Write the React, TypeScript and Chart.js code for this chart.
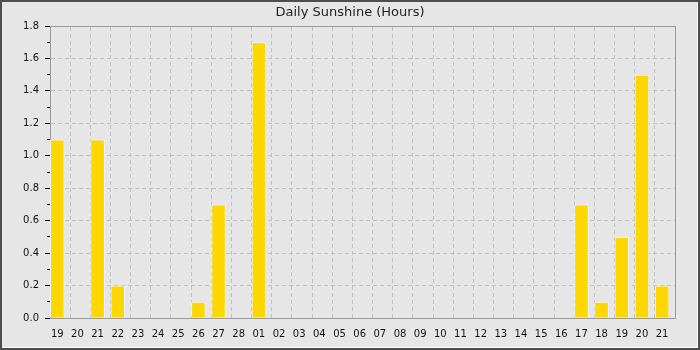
import { useEffect, useRef } from 'react';
import { Chart, registerables } from 'chart.js';

Chart.register(...registerables);

// Day-of-month labels, one per bar
const dayLabels = [
  '19', '20', '21', '22', '23', '24', '25', '26', '27', '28',
  '01', '02', '03', '04', '05', '06', '07', '08', '09', '10',
  '11', '12', '13', '14', '15', '16', '17', '18', '19', '20', '21',
];

// Hours of sunshine recorded each day
const sunshineHours = [
  1.1, 0, 1.1, 0.2, 0, 0, 0, 0.1, 0.7, 0,
  1.7, 0, 0, 0, 0, 0, 0, 0, 0, 0,
  0, 0, 0, 0, 0, 0, 0.7, 0.1, 0.5, 1.5, 0.2,
];

const chartTitle = 'Daily Sunshine (Hours)';
const yMax = 1.8;
const yMajorStep = 0.2;
const yMinorStep = 0.1;

// Bars sit at the left of each day slot
const BAR_SHARE = 0.72;
const BAR_CENTER = BAR_SHARE / 2;

const FONT = 'DejaVu Sans';
const BG = '#e6e6e6';
const GRID = '#c0c0c0';
const AXIS = '#999999';

const backgroundPlugin = {
  id: 'panelBackground',
  beforeDraw(chart: Chart) {
    const { ctx, width, height } = chart;
    ctx.save();
    ctx.fillStyle = BG;
    ctx.fillRect(0, 0, width, height);
    ctx.restore();
  },
  afterDraw(chart: Chart) {
    const { ctx, width, height } = chart;
    ctx.save();
    // light inner edge on right and bottom
    ctx.fillStyle = '#ffffff';
    ctx.fillRect(width - 3, 2, 1, height - 4);
    ctx.fillRect(2, height - 3, width - 4, 1);
    // dark outer frame
    ctx.fillStyle = '#4d4d4d';
    ctx.fillRect(0, 0, width, 2);
    ctx.fillRect(0, height - 2, width, 2);
    ctx.fillRect(0, 0, 2, height);
    ctx.fillRect(width - 2, 0, 2, height);
    ctx.restore();
  },
};

export default function App() {
  const canvasRef = useRef<HTMLCanvasElement | null>(null);

  useEffect(() => {
    if (!canvasRef.current) return;
    const n = dayLabels.length;

    const chart = new Chart(canvasRef.current, {
      type: 'bar',
      data: {
        datasets: [
          {
            label: 'Sunshine',
            data: sunshineHours.map((v, i) => ({ x: i + BAR_CENTER, y: v })),
            backgroundColor: '#ffd700',
            borderColor: '#eef4ff',
            borderWidth: 1,
            barPercentage: BAR_SHARE,
            categoryPercentage: 1,
            xAxisID: 'x',
            yAxisID: 'y',
          },
        ],
      },
      options: {
        responsive: false,
        animation: false,
        layout: { padding: 0 },
        plugins: {
          legend: { display: false },
          tooltip: { enabled: false },
          title: {
            display: true,
            text: chartTitle,
            color: '#222222',
            font: { family: FONT, size: 13, weight: 'normal' },
            padding: { top: 4.5, bottom: 5.9 },
          },
        },
        scales: {
          x: {
            type: 'linear',
            position: 'bottom',
            min: 0,
            max: n,
            offset: false,
            afterBuildTicks: (scale: any) => {
              scale.ticks = dayLabels.map((_, i) => ({ value: i + BAR_CENTER }));
            },
            afterFit: (scale: any) => {
              scale.height = 32;
            },
            ticks: {
              autoSkip: false,
              maxRotation: 0,
              minRotation: 0,
              padding: 10,
              color: '#111111',
              font: { family: FONT, size: 10 },
              callback: (_v: any, i: number) => dayLabels[i],
            },
            grid: { display: false, drawTicks: false, offset: false },
            border: { display: true, color: AXIS, width: 1 },
          },
          xg: {
            type: 'linear',
            position: 'top',
            min: 0,
            max: n,
            offset: false,
            afterBuildTicks: (scale: any) => {
              scale.ticks = dayLabels.slice(1).map((_, i) => ({ value: i + 1 }));
            },
            afterFit: (scale: any) => {
              scale.height = 0;
            },
            ticks: { display: false },
            grid: {
              display: true,
              color: GRID,
              lineWidth: 1,
              drawTicks: false,
              offset: false,
            },
            border: { display: true, color: AXIS, width: 1, dash: [4, 3] },
          },
          y: {
            type: 'linear',
            position: 'left',
            weight: 1,
            min: 0,
            max: yMax,
            afterFit: (scale: any) => {
              scale.width = 50;
            },
            ticks: {
              stepSize: yMajorStep,
              padding: 6,
              color: '#111111',
              font: { family: FONT, size: 10 },
              callback: (v: any) => Number(v).toFixed(1),
            },
            grid: {
              color: (ctx: any) => {
                const v = ctx.tick ? ctx.tick.value : 0;
                return v <= 0.0001 || v >= yMax - 0.0001 ? 'rgba(0,0,0,0)' : GRID;
              },
              lineWidth: 1,
              drawTicks: true,
              tickLength: 5,
              tickColor: '#000000',
              tickBorderDash: [],
            },
            border: { display: true, color: AXIS, width: 1, dash: [4, 3] },
          },
          ym: {
            type: 'linear',
            position: 'left',
            weight: 0,
            min: 0,
            max: yMax,
            afterFit: (scale: any) => {
              scale.width = 0;
            },
            ticks: { display: false, stepSize: yMinorStep },
            grid: {
              display: true,
              drawOnChartArea: false,
              drawTicks: true,
              tickLength: 3,
              tickColor: '#000000',
            },
            border: { display: false },
          },
          yr: {
            type: 'linear',
            position: 'right',
            min: 0,
            max: yMax,
            afterFit: (scale: any) => {
              scale.width = 25;
            },
            ticks: { display: false },
            grid: { display: false, drawTicks: false },
            border: { display: true, color: AXIS, width: 1 },
          },
        },
      },
      plugins: [backgroundPlugin],
    } as any);

    return () => chart.destroy();
  }, []);

  return (
    <div style={{ position: 'fixed', left: 0, top: 0, width: 700, height: 350 }}>
      <canvas ref={canvasRef} width={700} height={350} />
    </div>
  );
}
